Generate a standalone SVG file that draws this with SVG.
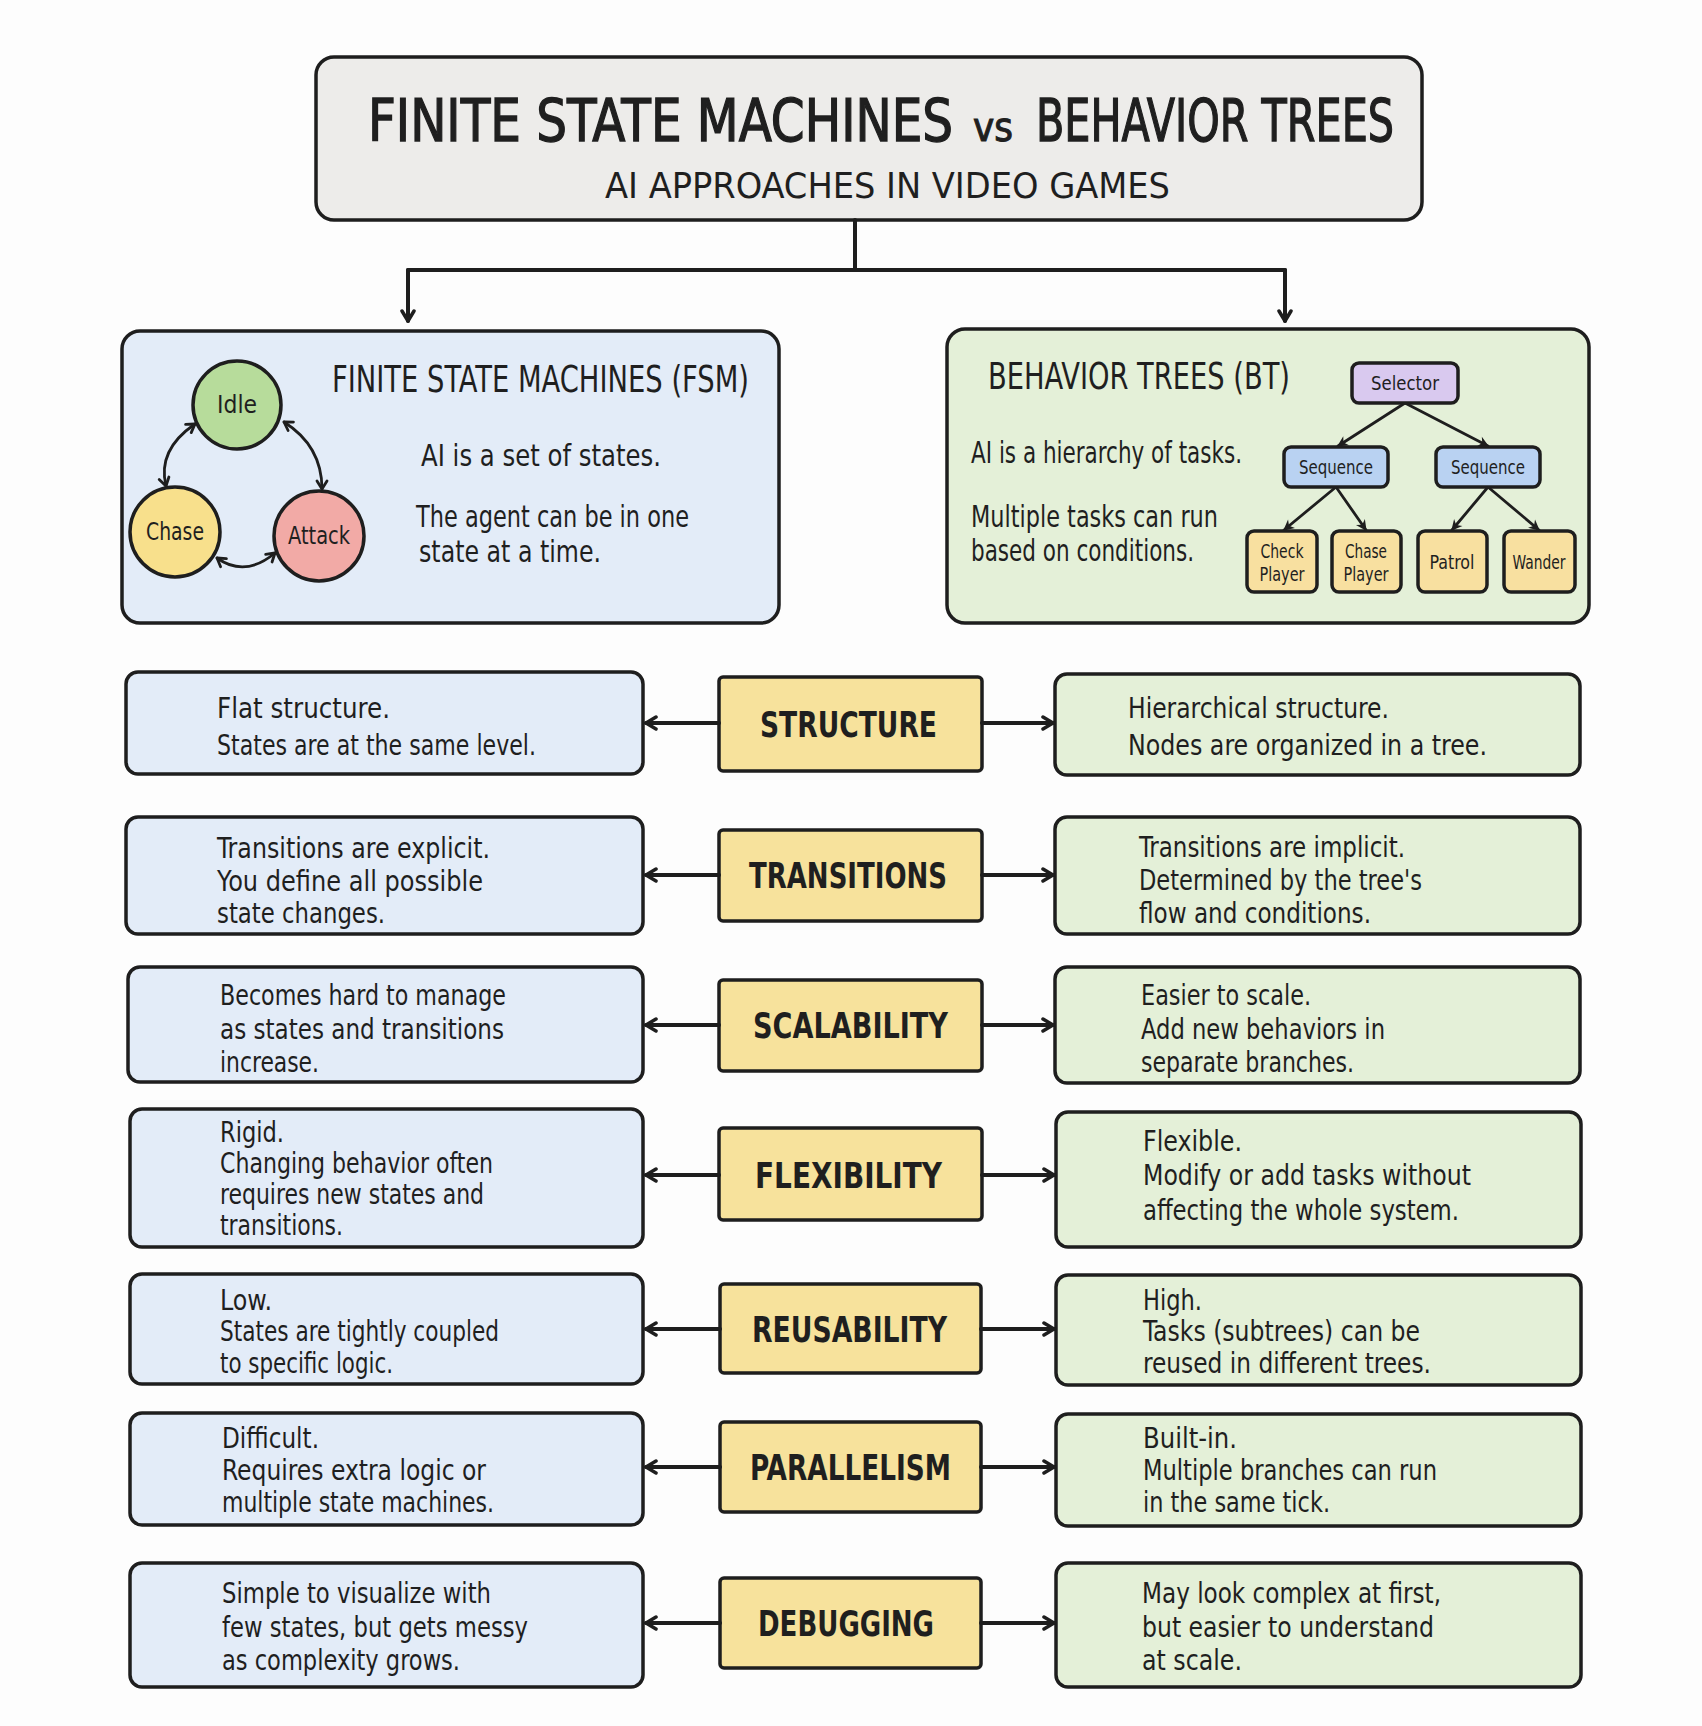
<svg xmlns="http://www.w3.org/2000/svg" width="1702" height="1726" viewBox="0 0 1702 1726">
  <style>
    text { font-family: "Liberation Sans Narrow", "DejaVu Sans Condensed", "Liberation Sans", sans-serif; fill: #1f1f1f; }
    .box { stroke: #1e1e1e; stroke-width: 3.5; }
    .title { font-size: 58px; stroke: #1f1f1f; stroke-width: 1.3px; }
    .vs { font-size: 40px; stroke: #1f1f1f; stroke-width: 1px; }
    .sub { font-size: 36px; }
    .panel-title { font-size: 38px; }
    .panel-body { font-size: 31px; }
    .body { font-size: 29px; }
    .body-tight { font-size: 28px; }
    .label { font-size: 36px; font-weight: bold; }
    .state { font-size: 24px; text-anchor: middle; }
    .task { font-size: 20px; text-anchor: middle; }
    .leaf { font-size: 19px; text-anchor: middle; }
    .fsm { fill: #e3ecf8; }
    .bt { fill: #e4f0d8; }
    .mid { fill: #f7e29c; }
    .conn { fill: none; stroke: #1e1e1e; stroke-width: 4; stroke-linecap: round; stroke-linejoin: round; }
    .thin { fill: none; stroke: #1e1e1e; stroke-width: 2.8; stroke-linecap: round; }
  </style>
  <defs>
    <marker id="chev" viewBox="0 0 16 16" refX="13" refY="8" markerWidth="16" markerHeight="16" markerUnits="userSpaceOnUse" orient="auto-start-reverse">
      <path d="M3,2 L13,8 L3,14" fill="none" stroke="#1e1e1e" stroke-width="3.5" stroke-linecap="round" stroke-linejoin="round"/>
    </marker>
    <marker id="chevSmall" viewBox="0 0 14 14" refX="11" refY="7" markerWidth="14" markerHeight="14" markerUnits="userSpaceOnUse" orient="auto-start-reverse">
      <path d="M3,2 L11,7 L3,12" fill="none" stroke="#1e1e1e" stroke-width="2.8" stroke-linecap="round" stroke-linejoin="round"/>
    </marker>
    <marker id="tip" viewBox="0 0 12 12" refX="10" refY="6" markerWidth="13" markerHeight="13" markerUnits="userSpaceOnUse" orient="auto">
      <path d="M1,1 L11,6 L1,11 L4,6 Z" fill="#1e1e1e"/>
    </marker>
  </defs>

  <rect width="1702" height="1726" fill="#fdfdfd"/>

  <!-- header -->
  <g id="title">
    <rect class="box" x="316" y="57" width="1106" height="163" rx="18" fill="#edecea"/>
    <text class="title" x="368" y="141" textLength="585" lengthAdjust="spacingAndGlyphs">FINITE STATE MACHINES</text>
    <text class="vs" x="973" y="141" textLength="40" lengthAdjust="spacingAndGlyphs">vs</text>
    <text class="title" x="1036" y="141" textLength="358" lengthAdjust="spacingAndGlyphs">BEHAVIOR TREES</text>
    <text class="sub" x="605" y="198" textLength="565" lengthAdjust="spacingAndGlyphs">AI APPROACHES IN VIDEO GAMES</text>
  </g>

  <!-- FSM overview panel -->
  <g id="fsm-panel">
    <rect class="box fsm" x="122" y="331" width="657" height="292" rx="18"/>
    <text class="panel-title" x="332" y="392" textLength="417" lengthAdjust="spacingAndGlyphs">FINITE STATE MACHINES (FSM)</text>
    <text class="panel-body" x="421" y="466" textLength="240" lengthAdjust="spacingAndGlyphs">AI is a set of states.</text>
    <text class="panel-body" x="416" y="527" textLength="273" lengthAdjust="spacingAndGlyphs">The agent can be in one</text>
    <text class="panel-body" x="419" y="562" textLength="182" lengthAdjust="spacingAndGlyphs">state at a time.</text>
    <g id="state-idle">
      <circle class="box" cx="237" cy="405" r="44" fill="#b7dc9b"/>
      <text class="state" x="237" y="413" textLength="40" lengthAdjust="spacingAndGlyphs">Idle</text>
    </g>
    <g id="state-chase">
      <circle class="box" cx="175" cy="532" r="45" fill="#f8e08c"/>
      <text class="state" x="175" y="540" textLength="58" lengthAdjust="spacingAndGlyphs">Chase</text>
    </g>
    <g id="state-attack">
      <circle class="box" cx="319" cy="536" r="45" fill="#f2aaa6"/>
      <text class="state" x="319" y="544" textLength="62" lengthAdjust="spacingAndGlyphs">Attack</text>
    </g>
    <g id="fsm-transitions">
      <path class="thin" d="M195,424 Q157,450 166,486" marker-start="url(#chevSmall)" marker-end="url(#chevSmall)"/>
      <path class="thin" d="M284,422 Q322,446 322,489" marker-start="url(#chevSmall)" marker-end="url(#chevSmall)"/>
      <path class="thin" d="M217,558 Q245,578 275,553" marker-start="url(#chevSmall)" marker-end="url(#chevSmall)"/>
    </g>
  </g>

  <!-- BT overview panel -->
  <g id="bt-panel">
    <rect class="box bt" x="947" y="329" width="642" height="294" rx="18"/>
    <text class="panel-title" x="988" y="389" textLength="302" lengthAdjust="spacingAndGlyphs">BEHAVIOR TREES (BT)</text>
    <text class="panel-body" x="971" y="463" textLength="271" lengthAdjust="spacingAndGlyphs">AI is a hierarchy of tasks.</text>
    <text class="panel-body" x="971" y="527" textLength="247" lengthAdjust="spacingAndGlyphs">Multiple tasks can run</text>
    <text class="panel-body" x="971" y="561" textLength="223" lengthAdjust="spacingAndGlyphs">based on conditions.</text>
    <g id="bt-edges">
      <path class="thin" d="M1405,403 L1338,446" marker-end="url(#tip)"/>
      <path class="thin" d="M1405,403 L1488,446" marker-end="url(#tip)"/>
      <path class="thin" d="M1336,487 L1284,530" marker-end="url(#tip)"/>
      <path class="thin" d="M1336,487 L1366,530" marker-end="url(#tip)"/>
      <path class="thin" d="M1488,487 L1452,530" marker-end="url(#tip)"/>
      <path class="thin" d="M1488,487 L1539,530" marker-end="url(#tip)"/>
    </g>
    <g id="bt-selector">
      <rect class="box" x="1352" y="363" width="106" height="40" rx="7" fill="#d9c9ef" stroke-width="3"/>
      <text class="task" x="1405" y="390" textLength="68" lengthAdjust="spacingAndGlyphs">Selector</text>
    </g>
    <g id="bt-sequence-a">
      <rect class="box" x="1284" y="447" width="104" height="40" rx="7" fill="#b9d2f2" stroke-width="3"/>
      <text class="task" x="1336" y="474" textLength="74" lengthAdjust="spacingAndGlyphs">Sequence</text>
    </g>
    <g id="bt-sequence-b">
      <rect class="box" x="1436" y="447" width="104" height="40" rx="7" fill="#b9d2f2" stroke-width="3"/>
      <text class="task" x="1488" y="474" textLength="74" lengthAdjust="spacingAndGlyphs">Sequence</text>
    </g>
    <g id="bt-check-player">
      <rect class="box" x="1247" y="531" width="70" height="61" rx="7" fill="#f8e0a0" stroke-width="3"/>
      <text class="leaf" x="1282" y="558" textLength="43" lengthAdjust="spacingAndGlyphs">Check</text>
      <text class="leaf" x="1282" y="581" textLength="45" lengthAdjust="spacingAndGlyphs">Player</text>
    </g>
    <g id="bt-chase-player">
      <rect class="box" x="1332" y="531" width="69" height="61" rx="7" fill="#f8e0a0" stroke-width="3"/>
      <text class="leaf" x="1366" y="558" textLength="42" lengthAdjust="spacingAndGlyphs">Chase</text>
      <text class="leaf" x="1366" y="581" textLength="45" lengthAdjust="spacingAndGlyphs">Player</text>
    </g>
    <g id="bt-patrol">
      <rect class="box" x="1418" y="531" width="69" height="61" rx="7" fill="#f8e0a0" stroke-width="3"/>
      <text class="leaf" x="1452" y="569" textLength="45" lengthAdjust="spacingAndGlyphs">Patrol</text>
    </g>
    <g id="bt-wander">
      <rect class="box" x="1504" y="531" width="71" height="61" rx="7" fill="#f8e0a0" stroke-width="3"/>
      <text class="leaf" x="1539" y="569" textLength="53" lengthAdjust="spacingAndGlyphs">Wander</text>
    </g>
  </g>

  <!-- comparison rows: FSM side, criterion, BT side -->
  <g id="row-structure">
    <rect class="box fsm" x="126" y="672" width="517" height="102" rx="12"/>
    <text class="body" x="217" y="718" textLength="173" lengthAdjust="spacingAndGlyphs">Flat structure.</text>
    <text class="body" x="217" y="755" textLength="319" lengthAdjust="spacingAndGlyphs">States are at the same level.</text>
    <rect class="box mid" x="719" y="677" width="263" height="94" rx="4"/>
    <text class="label" x="760" y="737" textLength="177" lengthAdjust="spacingAndGlyphs">STRUCTURE</text>
    <rect class="box bt" x="1055" y="674" width="525" height="101" rx="12"/>
    <text class="body" x="1128" y="718" textLength="261" lengthAdjust="spacingAndGlyphs">Hierarchical structure.</text>
    <text class="body" x="1128" y="755" textLength="359" lengthAdjust="spacingAndGlyphs">Nodes are organized in a tree.</text>
  </g>

  <g id="row-transitions">
    <rect class="box fsm" x="126" y="817" width="517" height="117" rx="12"/>
    <text class="body" x="217" y="858" textLength="273" lengthAdjust="spacingAndGlyphs">Transitions are explicit.</text>
    <text class="body" x="217" y="891" textLength="266" lengthAdjust="spacingAndGlyphs">You define all possible</text>
    <text class="body" x="217" y="923" textLength="168" lengthAdjust="spacingAndGlyphs">state changes.</text>
    <rect class="box mid" x="719" y="830" width="263" height="91" rx="4"/>
    <text class="label" x="749" y="888" textLength="198" lengthAdjust="spacingAndGlyphs">TRANSITIONS</text>
    <rect class="box bt" x="1055" y="817" width="525" height="117" rx="12"/>
    <text class="body" x="1139" y="857" textLength="266" lengthAdjust="spacingAndGlyphs">Transitions are implicit.</text>
    <text class="body" x="1139" y="890" textLength="283" lengthAdjust="spacingAndGlyphs">Determined by the tree's</text>
    <text class="body" x="1139" y="923" textLength="232" lengthAdjust="spacingAndGlyphs">flow and conditions.</text>
  </g>

  <g id="row-scalability">
    <rect class="box fsm" x="128" y="967" width="515" height="115" rx="12"/>
    <text class="body" x="220" y="1005" textLength="286" lengthAdjust="spacingAndGlyphs">Becomes hard to manage</text>
    <text class="body" x="220" y="1039" textLength="284" lengthAdjust="spacingAndGlyphs">as states and transitions</text>
    <text class="body" x="220" y="1072" textLength="99" lengthAdjust="spacingAndGlyphs">increase.</text>
    <rect class="box mid" x="719" y="980" width="263" height="91" rx="4"/>
    <text class="label" x="753" y="1038" textLength="195" lengthAdjust="spacingAndGlyphs">SCALABILITY</text>
    <rect class="box bt" x="1055" y="967" width="525" height="116" rx="12"/>
    <text class="body" x="1141" y="1005" textLength="170" lengthAdjust="spacingAndGlyphs">Easier to scale.</text>
    <text class="body" x="1141" y="1039" textLength="244" lengthAdjust="spacingAndGlyphs">Add new behaviors in</text>
    <text class="body" x="1141" y="1072" textLength="213" lengthAdjust="spacingAndGlyphs">separate branches.</text>
  </g>

  <g id="row-flexibility">
    <rect class="box fsm" x="130" y="1109" width="513" height="138" rx="12"/>
    <text class="body-tight" x="220" y="1142" textLength="64" lengthAdjust="spacingAndGlyphs">Rigid.</text>
    <text class="body-tight" x="220" y="1173" textLength="273" lengthAdjust="spacingAndGlyphs">Changing behavior often</text>
    <text class="body-tight" x="220" y="1204" textLength="264" lengthAdjust="spacingAndGlyphs">requires new states and</text>
    <text class="body-tight" x="220" y="1235" textLength="123" lengthAdjust="spacingAndGlyphs">transitions.</text>
    <rect class="box mid" x="719" y="1128" width="263" height="92" rx="4"/>
    <text class="label" x="755" y="1188" textLength="187" lengthAdjust="spacingAndGlyphs">FLEXIBILITY</text>
    <rect class="box bt" x="1056" y="1112" width="525" height="135" rx="12"/>
    <text class="body" x="1143" y="1151" textLength="99" lengthAdjust="spacingAndGlyphs">Flexible.</text>
    <text class="body" x="1143" y="1185" textLength="328" lengthAdjust="spacingAndGlyphs">Modify or add tasks without</text>
    <text class="body" x="1143" y="1220" textLength="316" lengthAdjust="spacingAndGlyphs">affecting the whole system.</text>
  </g>

  <g id="row-reusability">
    <rect class="box fsm" x="130" y="1274" width="513" height="110" rx="12"/>
    <text class="body" x="220" y="1310" textLength="52" lengthAdjust="spacingAndGlyphs">Low.</text>
    <text class="body" x="220" y="1341" textLength="279" lengthAdjust="spacingAndGlyphs">States are tightly coupled</text>
    <text class="body" x="220" y="1373" textLength="173" lengthAdjust="spacingAndGlyphs">to specific logic.</text>
    <rect class="box mid" x="720" y="1284" width="261" height="89" rx="4"/>
    <text class="label" x="752" y="1342" textLength="195" lengthAdjust="spacingAndGlyphs">REUSABILITY</text>
    <rect class="box bt" x="1056" y="1275" width="525" height="110" rx="12"/>
    <text class="body" x="1143" y="1310" textLength="59" lengthAdjust="spacingAndGlyphs">High.</text>
    <text class="body" x="1143" y="1341" textLength="277" lengthAdjust="spacingAndGlyphs">Tasks (subtrees) can be</text>
    <text class="body" x="1143" y="1373" textLength="288" lengthAdjust="spacingAndGlyphs">reused in different trees.</text>
  </g>

  <g id="row-parallelism">
    <rect class="box fsm" x="130" y="1413" width="513" height="112" rx="12"/>
    <text class="body" x="222" y="1448" textLength="97" lengthAdjust="spacingAndGlyphs">Difficult.</text>
    <text class="body" x="222" y="1480" textLength="264" lengthAdjust="spacingAndGlyphs">Requires extra logic or</text>
    <text class="body" x="222" y="1512" textLength="272" lengthAdjust="spacingAndGlyphs">multiple state machines.</text>
    <rect class="box mid" x="720" y="1422" width="261" height="90" rx="4"/>
    <text class="label" x="750" y="1480" textLength="201" lengthAdjust="spacingAndGlyphs">PARALLELISM</text>
    <rect class="box bt" x="1056" y="1414" width="525" height="112" rx="12"/>
    <text class="body" x="1143" y="1448" textLength="94" lengthAdjust="spacingAndGlyphs">Built-in.</text>
    <text class="body" x="1143" y="1480" textLength="294" lengthAdjust="spacingAndGlyphs">Multiple branches can run</text>
    <text class="body" x="1143" y="1512" textLength="187" lengthAdjust="spacingAndGlyphs">in the same tick.</text>
  </g>

  <g id="row-debugging">
    <rect class="box fsm" x="130" y="1563" width="513" height="124" rx="12"/>
    <text class="body" x="222" y="1603" textLength="269" lengthAdjust="spacingAndGlyphs">Simple to visualize with</text>
    <text class="body" x="222" y="1637" textLength="306" lengthAdjust="spacingAndGlyphs">few states, but gets messy</text>
    <text class="body" x="222" y="1670" textLength="238" lengthAdjust="spacingAndGlyphs">as complexity grows.</text>
    <rect class="box mid" x="720" y="1578" width="261" height="90" rx="4"/>
    <text class="label" x="758" y="1636" textLength="176" lengthAdjust="spacingAndGlyphs">DEBUGGING</text>
    <rect class="box bt" x="1056" y="1563" width="525" height="124" rx="12"/>
    <text class="body" x="1142" y="1603" textLength="299" lengthAdjust="spacingAndGlyphs">May look complex at first,</text>
    <text class="body" x="1142" y="1637" textLength="292" lengthAdjust="spacingAndGlyphs">but easier to understand</text>
    <text class="body" x="1142" y="1670" textLength="100" lengthAdjust="spacingAndGlyphs">at scale.</text>
  </g>

  <!-- connectors -->
  <g id="connectors">
    <path class="conn" d="M855,220 L855,270"/>
    <path class="conn" d="M408,270 L1285,270"/>
    <path class="conn" d="M408,270 L408,321" marker-end="url(#chev)"/>
    <path class="conn" d="M1285,270 L1285,321" marker-end="url(#chev)"/>

    <path class="conn" d="M719,723 L646,723" marker-end="url(#chev)"/>
    <path class="conn" d="M982,723 L1053,723" marker-end="url(#chev)"/>
    <path class="conn" d="M719,875 L646,875" marker-end="url(#chev)"/>
    <path class="conn" d="M982,875 L1053,875" marker-end="url(#chev)"/>
    <path class="conn" d="M719,1025 L646,1025" marker-end="url(#chev)"/>
    <path class="conn" d="M982,1025 L1053,1025" marker-end="url(#chev)"/>
    <path class="conn" d="M719,1175 L646,1175" marker-end="url(#chev)"/>
    <path class="conn" d="M982,1175 L1054,1175" marker-end="url(#chev)"/>
    <path class="conn" d="M720,1329 L646,1329" marker-end="url(#chev)"/>
    <path class="conn" d="M981,1329 L1054,1329" marker-end="url(#chev)"/>
    <path class="conn" d="M720,1467 L646,1467" marker-end="url(#chev)"/>
    <path class="conn" d="M981,1467 L1054,1467" marker-end="url(#chev)"/>
    <path class="conn" d="M720,1623 L646,1623" marker-end="url(#chev)"/>
    <path class="conn" d="M981,1623 L1054,1623" marker-end="url(#chev)"/>
  </g>
</svg>
